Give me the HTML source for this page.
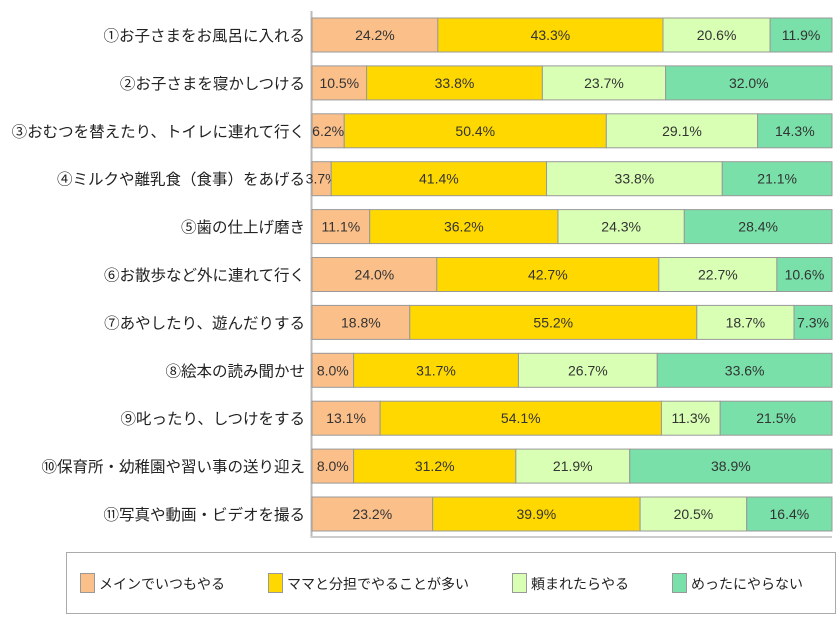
<!DOCTYPE html>
<html><head><meta charset="utf-8">
<style>
body{margin:0;background:#fff;width:840px;height:626px;overflow:hidden;font-family:"Liberation Sans","Noto Sans CJK JP",sans-serif;}
</style></head>
<body>
<svg id="chart" width="840" height="626" style="position:absolute;left:0;top:0"></svg>
<script>
const categories=["①お子さまをお風呂に入れる","②お子さまを寝かしつける","③おむつを替えたり、トイレに連れて行く","④ミルクや離乳食（食事）をあげる","⑤歯の仕上げ磨き","⑥お散歩など外に連れて行く","⑦あやしたり、遊んだりする","⑧絵本の読み聞かせ","⑨叱ったり、しつけをする","⑩保育所・幼稚園や習い事の送り迎え","⑪写真や動画・ビデオを撮る"];
const seriesNames=["メインでいつもやる","ママと分担でやることが多い","頼まれたらやる","めったにやらない"];
const main=[24.2,10.5,6.2,3.7,11.1,24.0,18.8,8.0,13.1,8.0,23.2];
const shared=[43.3,33.8,50.4,41.4,36.2,42.7,55.2,31.7,54.1,31.2,39.9];
const asked=[20.6,23.7,29.1,33.8,24.3,22.7,18.7,26.7,11.3,21.9,20.5];
const rarely=[11.9,32.0,14.3,21.1,28.4,10.6,7.3,33.6,21.5,38.9,16.4];
const colors=["#fbbf8a","#ffd800","#d8ffb4","#78e0a8"];
const NS="http://www.w3.org/2000/svg";
const svg=document.getElementById('chart');
const x0=312,plotW=520,y0=18,pitch=47.9,bh=34;
const xs=v=>v/100*plotW;
const yb=i=>y0+i*pitch;
function mk(t,a){const e=document.createElementNS(NS,t);for(const k in a)e.setAttribute(k,a[k]);svg.appendChild(e);return e;}
const axis=mk('line',{x1:311.5,y1:11,x2:311.5,y2:538,stroke:'#bbb','stroke-width':2});


const base=mk('line',{x1:311,y1:537,x2:832,y2:537,stroke:'#ccc','stroke-width':2});


const series=[main,shared,asked,rarely];
categories.forEach((c,i)=>{
  const lab=mk('text',{x:305,y:yb(i)+bh/2+6,'text-anchor':'end','font-size':15.5,fill:'#222'});
  lab.textContent=c;
  
  
  let acc=0;
  series.forEach((s,j)=>{
    const v=s[i];
    const r=mk('rect',{x:x0+xs(acc),y:yb(i),width:xs(v),height:bh,fill:colors[j],stroke:'#999','stroke-width':1});
    
    
    const t=mk('text',{x:x0+xs(acc+v/2),y:yb(i)+bh/2+5,'text-anchor':'middle','font-size':14,fill:'#333'});
    t.textContent=v.toFixed(1)+'%';
    
    
    acc+=v;
  });
});
const lb=mk('rect',{x:66.5,y:552.5,width:769,height:61,fill:'#fff',stroke:'#aaa'});


const lx=[80,268,512,672];
seriesNames.forEach((n,j)=>{
  const s=mk('rect',{x:lx[j]+0.5,y:573.5,width:14,height:19,fill:colors[j],stroke:'#999'});
  
  
  const t=mk('text',{x:lx[j]+19,y:589,'font-size':14,fill:'#222'});
  t.textContent=n;
  
  
});
</script>
</body></html>
